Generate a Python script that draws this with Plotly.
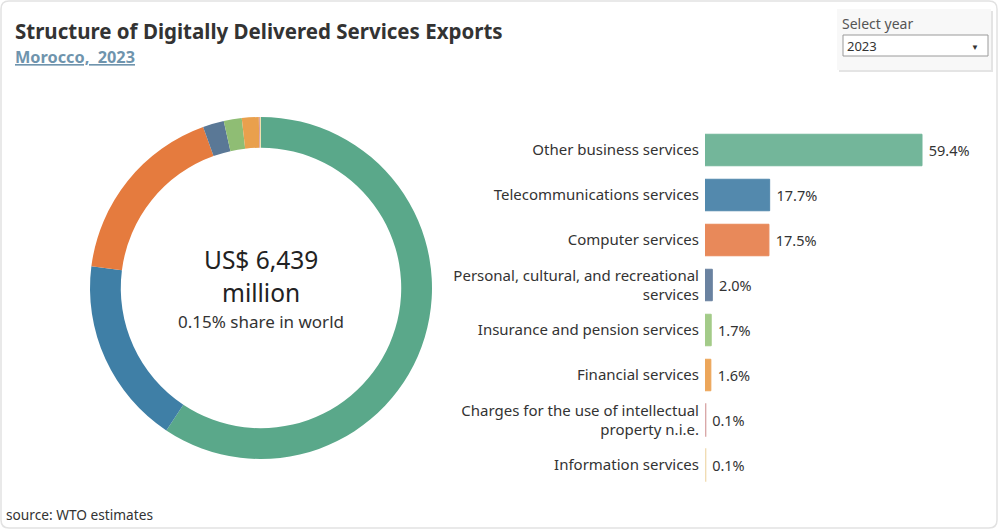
import plotly.graph_objects as go

categories = [
    "Other business services",
    "Telecommunications services",
    "Computer services",
    "Personal, cultural, and recreational<br>services",
    "Insurance and pension services",
    "Financial services",
    "Charges for the use of intellectual<br>property n.i.e.",
    "Information services",
]
shares = [59.4, 17.7, 17.5, 2.0, 1.7, 1.6, 0.1, 0.1]
share_labels = ["59.4%", "17.7%", "17.5%", "2.0%", "1.7%", "1.6%", "0.1%", "0.1%"]
donut_colors = ["#5aa88a", "#3f7fa6", "#e57b3e", "#5a7896", "#8fbd74", "#e9a04d", "#d9a0a0", "#f0dfae"]
bar_colors = ["#73b69a", "#5389ad", "#e8895a", "#6a82a0", "#a3cb89", "#eca65a", "#d9a8a8", "#f0dcb4"]

total_value = "US$ 6,439"
world_share = "0.15% share in world"
title = "Structure of Digitally Delivered Services Exports"
subtitle = "Morocco,  2023"
source = "source: WTO estimates"
year = "2023"

FONT = "Noto Sans"
W, H = 1000, 531

def px(x):
    return x / W

def py(y):
    return 1 - y / H

fig = go.Figure()

fig.add_trace(go.Pie(
    labels=[c.replace("<br>", " ") for c in categories],
    values=shares,
    marker=dict(colors=donut_colors, line=dict(width=0)),
    hole=0.82,
    sort=False,
    direction="clockwise",
    rotation=0,
    textinfo="none",
    hoverinfo="label+percent",
    showlegend=False,
    domain=dict(x=[px(90), px(432)], y=[py(459), py(117)]),
))

fig.add_trace(go.Bar(
    x=shares,
    y=categories,
    orientation="h",
    marker=dict(color=bar_colors,
                line=dict(color=bar_colors, width=[1, 1, 1, 1, 1, 1, 2, 2])),
    width=0.70,
    text=[" " + s for s in share_labels],
    textposition="outside",
    textfont=dict(family=FONT, size=14.5, color="#333333"),
    cliponaxis=False,
    showlegend=False,
    hovertemplate="%{y}: %{x}%<extra></extra>",
))

fig.update_xaxes(domain=[px(705), px(995)], range=[0, 290 / (217 / 59.4)],
                 visible=False, showgrid=False, zeroline=False, fixedrange=True)
fig.update_yaxes(domain=[py(487.5), py(127.5)], autorange="reversed",
                 showgrid=False, zeroline=False, showline=False, ticks="",
                 tickfont=dict(family=FONT, size=15, color="#333333"),
                 ticklabelstandoff=5, fixedrange=True)

# card border with rounded corners
r = 8
x0, y0, x1, y1 = 1, 1, 997, 528
path = (f"M {px(x0+r)},{py(y0)} L {px(x1-r)},{py(y0)} Q {px(x1)},{py(y0)} {px(x1)},{py(y0+r)} "
        f"L {px(x1)},{py(y1-r)} Q {px(x1)},{py(y1)} {px(x1-r)},{py(y1)} "
        f"L {px(x0+r)},{py(y1)} Q {px(x0)},{py(y1)} {px(x0)},{py(y1-r)} "
        f"L {px(x0)},{py(y0+r)} Q {px(x0)},{py(y0)} {px(x0+r)},{py(y0)} Z")

shapes = [
    dict(type="path", path=path, xref="paper", yref="paper",
         line=dict(color="#e2e2e2", width=1.5), fillcolor="rgba(0,0,0,0)", layer="below"),
    # dropdown card shadow + body
    dict(type="rect", xref="paper", yref="paper", x0=px(839), x1=px(993), y0=py(72), y1=py(11),
         line=dict(width=0), fillcolor="#e4e4e4", layer="below"),
    dict(type="rect", xref="paper", yref="paper", x0=px(837), x1=px(991), y0=py(70), y1=py(9),
         line=dict(width=0), fillcolor="#f8f8f8", layer="below"),
    dict(type="rect", xref="paper", yref="paper", x0=px(843), x1=px(988), y0=py(56), y1=py(35),
         line=dict(color="#9a9a9a", width=1), fillcolor="#ffffff", layer="below"),
]

annotations = [
    dict(text=f"<b>{title}</b>", x=px(13), y=py(31), xref="paper", yref="paper",
         xanchor="left", yanchor="middle", showarrow=False,
         font=dict(family=FONT, size=20.5, color="#333333")),
    dict(text=f"<b><u>{subtitle}</u></b>", x=px(13), y=py(57), xref="paper", yref="paper",
         xanchor="left", yanchor="middle", showarrow=False,
         font=dict(family=FONT, size=16.3, color="#6f94ad")),
    dict(text="Select year", x=px(840), y=py(23), xref="paper", yref="paper",
         xanchor="left", yanchor="middle", showarrow=False,
         font=dict(family=FONT, size=14, color="#555555")),
    dict(text=year, x=px(845), y=py(46), xref="paper", yref="paper",
         xanchor="left", yanchor="middle", showarrow=False,
         font=dict(family=FONT, size=13, color="#333333")),
    dict(text="▼", x=px(975), y=py(46), xref="paper", yref="paper",
         xanchor="center", yanchor="middle", showarrow=False,
         font=dict(family=FONT, size=8, color="#333333")),
    dict(text=total_value, x=px(261), y=py(259), xref="paper", yref="paper",
         xanchor="center", yanchor="middle", showarrow=False,
         font=dict(family=FONT, size=24.5, color="#222222")),
    dict(text="million", x=px(261), y=py(292), xref="paper", yref="paper",
         xanchor="center", yanchor="middle", showarrow=False,
         font=dict(family=FONT, size=24.5, color="#222222")),
    dict(text=world_share, x=px(261), y=py(321), xref="paper", yref="paper",
         xanchor="center", yanchor="middle", showarrow=False,
         font=dict(family=FONT, size=17, color="#333333")),
    dict(text=source, x=px(4), y=py(514), xref="paper", yref="paper",
         xanchor="left", yanchor="middle", showarrow=False,
         font=dict(family=FONT, size=13.7, color="#333333")),
]

fig.update_layout(
    width=W, height=H,
    margin=dict(l=0, r=0, t=0, b=0),
    paper_bgcolor="#ffffff",
    plot_bgcolor="#ffffff",
    font=dict(family=FONT, color="#333333"),
    shapes=shapes,
    annotations=annotations,
)

fig.write_html("out.html")
